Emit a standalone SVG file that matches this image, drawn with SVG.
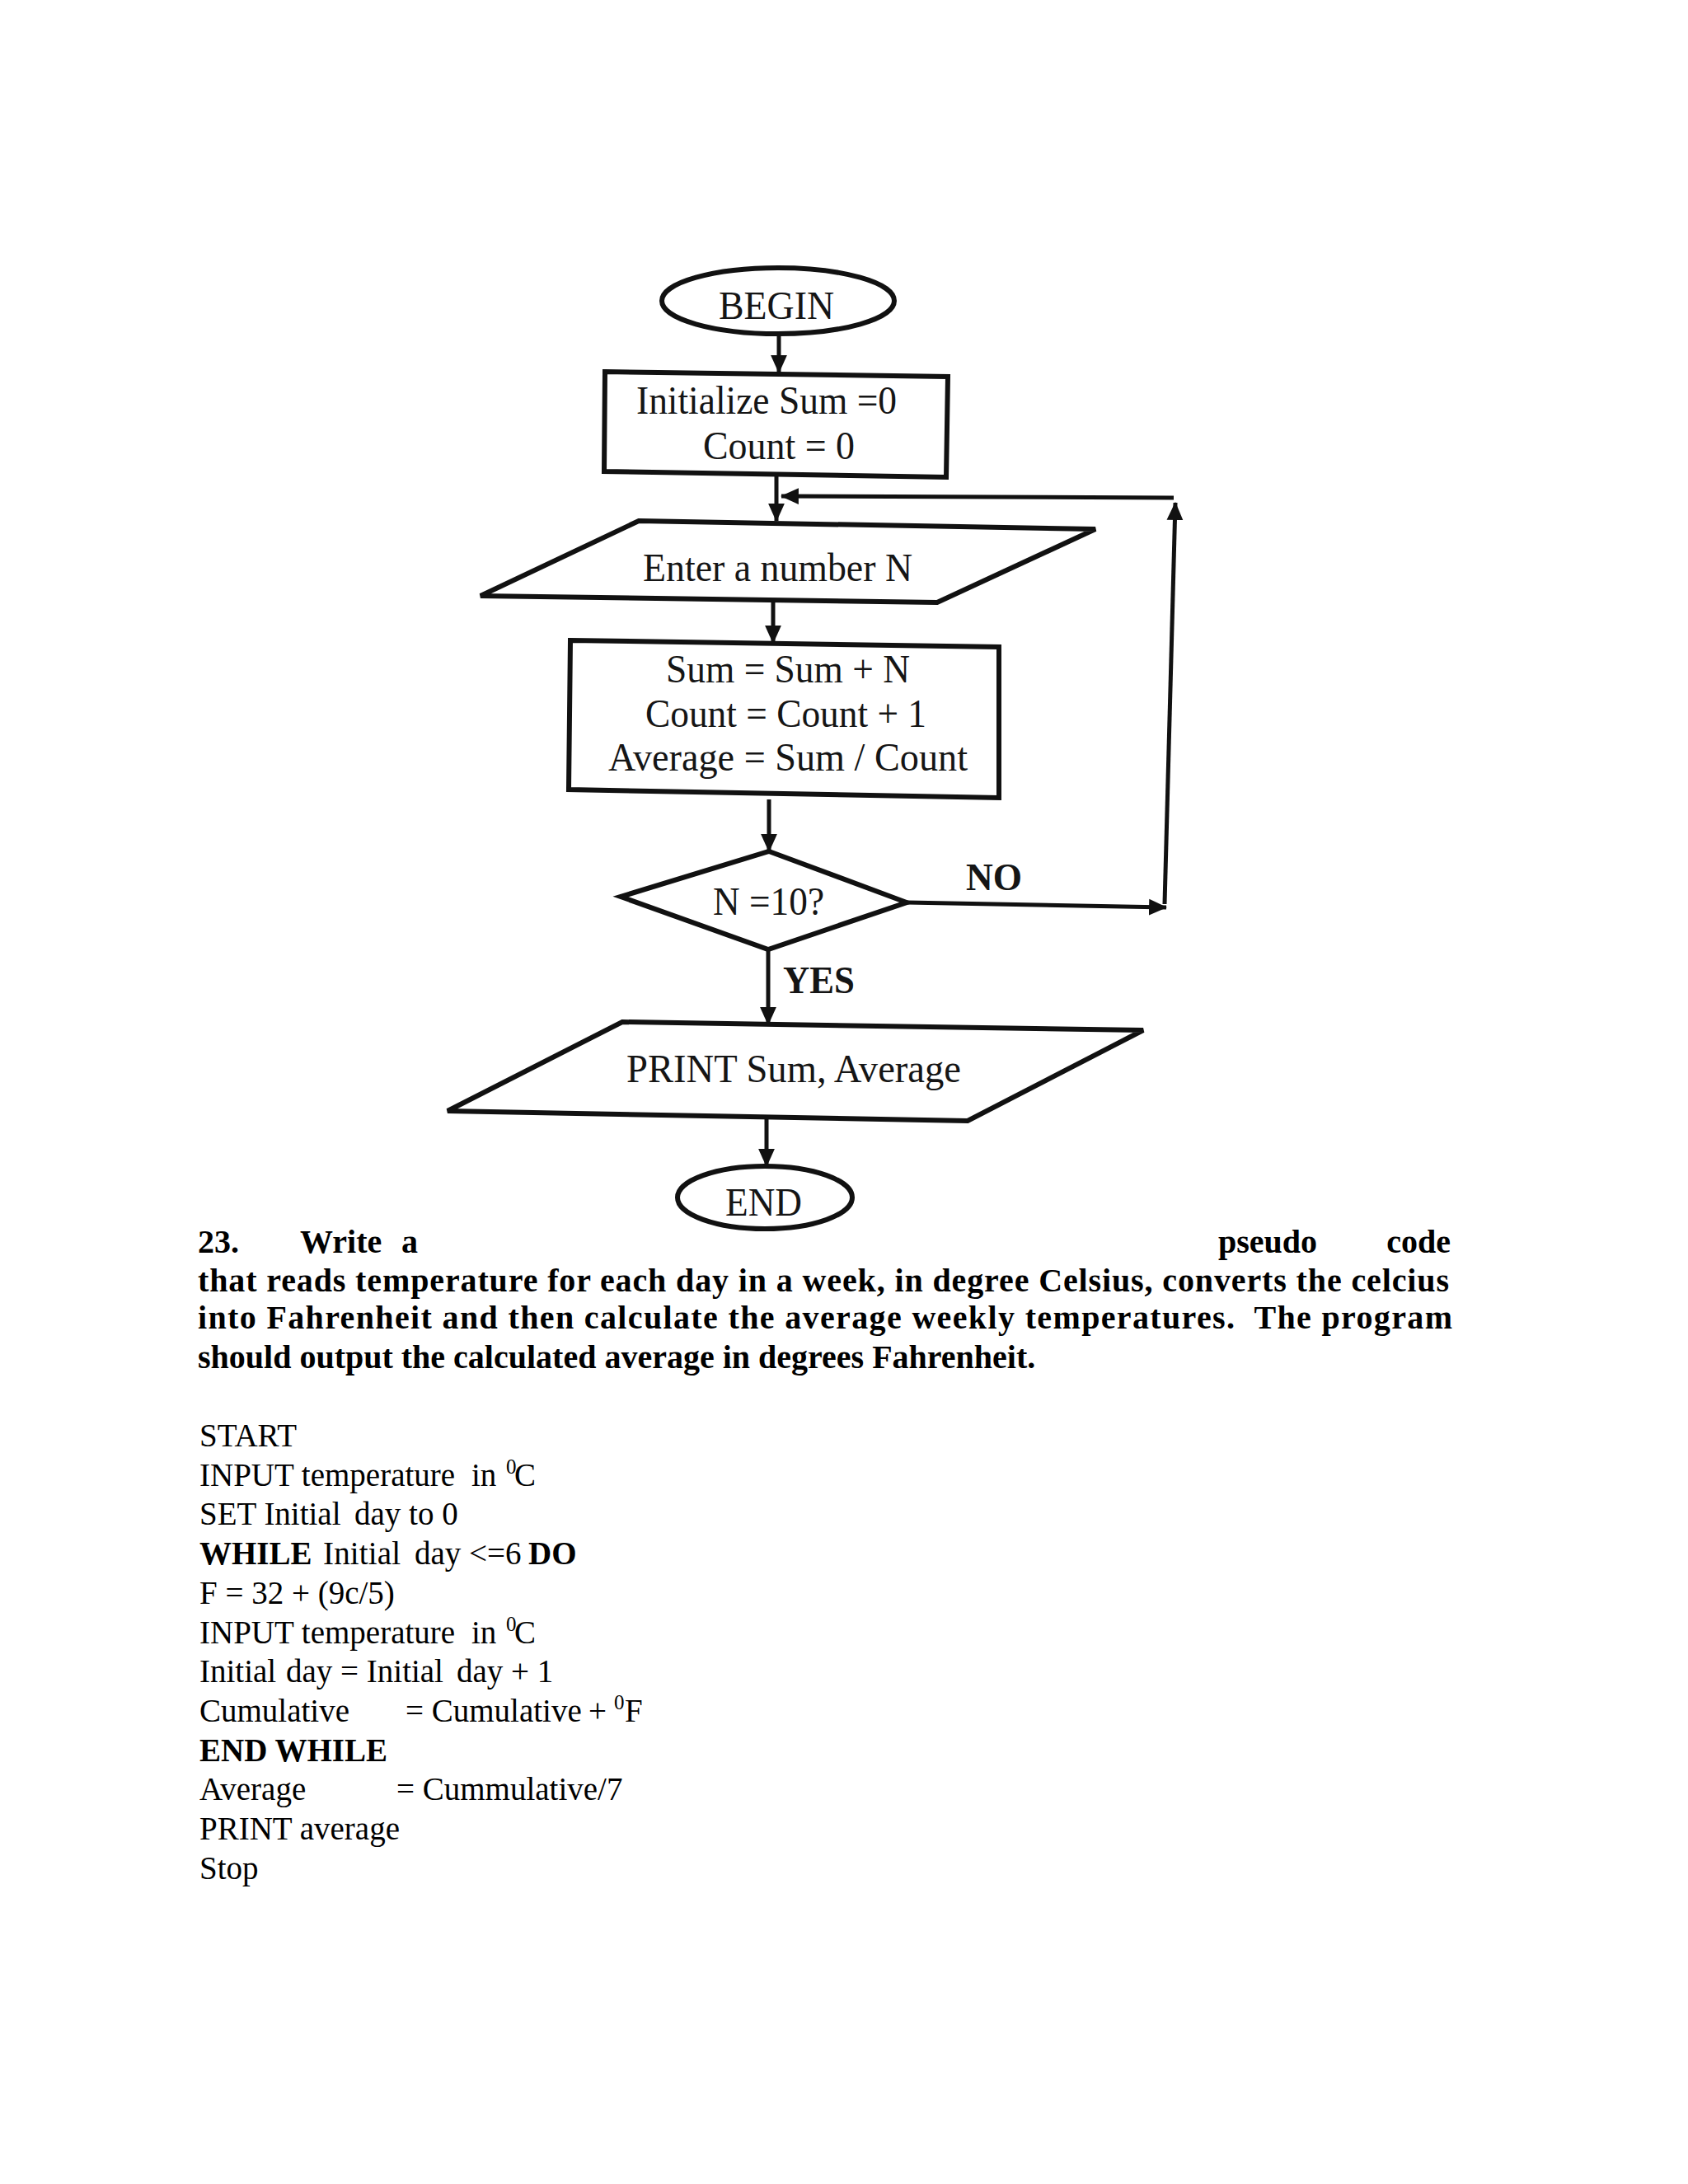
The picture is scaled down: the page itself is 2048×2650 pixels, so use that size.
<svg xmlns="http://www.w3.org/2000/svg" width="2048" height="2650" viewBox="0 0 2048 2650">
<defs>
<style>
.shape{fill:none;stroke:#111;stroke-width:6;stroke-linejoin:miter}
.edge{fill:none;stroke:#111;stroke-width:5}
.fc{font-family:"Liberation Serif","Times New Roman",serif;font-size:48px;fill:#151515}
.fcb{font-family:"Liberation Serif","Times New Roman",serif;font-size:47px;font-weight:bold;fill:#151515}
.para{font-family:"Liberation Serif","Times New Roman",serif;font-size:40px;font-weight:bold;fill:#000}
.code{font-family:"Liberation Serif","Times New Roman",serif;font-size:39px;fill:#000}
.b{font-weight:bold}
.sup{font-size:25px}
</style>
<marker id="arr" viewBox="0 0 20 20" refX="19" refY="10" markerWidth="22" markerHeight="22" markerUnits="userSpaceOnUse" orient="auto">
<path d="M0,1 L20,10 L0,19 Z" fill="#111"/>
</marker>
</defs>
<rect x="0" y="0" width="2048" height="2650" fill="#fff"/>

<g id="connectors">
<line class="edge" x1="945" y1="405" x2="945" y2="452" marker-end="url(#arr)"/>
<line class="edge" x1="942" y1="578" x2="942" y2="632" marker-end="url(#arr)"/>
<line class="edge" x1="938" y1="729" x2="938" y2="780" marker-end="url(#arr)"/>
<line class="edge" x1="933" y1="970" x2="933" y2="1033" marker-end="url(#arr)"/>
<line class="edge" x1="1100" y1="1095" x2="1415" y2="1101" marker-end="url(#arr)"/>
<line class="edge" x1="1413" y1="1097" x2="1426" y2="610" marker-end="url(#arr)"/>
<line class="edge" x1="1424" y1="604" x2="948" y2="602" marker-end="url(#arr)"/>
<line class="edge" x1="932" y1="1152" x2="932" y2="1243" marker-end="url(#arr)"/>
<line class="edge" x1="930" y1="1354" x2="930" y2="1415" marker-end="url(#arr)"/>
</g>

<g id="begin">
<ellipse class="shape" cx="944" cy="365" rx="141" ry="40"/>
<text class="fc" x="872" y="387" textLength="140" lengthAdjust="spacingAndGlyphs">BEGIN</text>
</g>

<g id="init">
<polygon class="shape" points="734,451 1150,457 1148,579 733,572"/>
<text class="fc" x="772" y="502" textLength="316" lengthAdjust="spacingAndGlyphs">Initialize Sum =0</text>
<text class="fc" x="853" y="557" textLength="184" lengthAdjust="spacingAndGlyphs">Count = 0</text>
</g>

<g id="enter">
<polygon class="shape" points="775,632 1329,642 1137,731 583,723"/>
<text class="fc" x="780" y="705" textLength="327" lengthAdjust="spacingAndGlyphs">Enter a number N</text>
</g>

<g id="process">
<polygon class="shape" points="692,777 1212,785 1212,968 690,958"/>
<text class="fc" x="808" y="828" textLength="296" lengthAdjust="spacingAndGlyphs">Sum = Sum + N</text>
<text class="fc" x="783" y="882" textLength="341" lengthAdjust="spacingAndGlyphs">Count = Count + 1</text>
<text class="fc" x="738" y="935" textLength="436" lengthAdjust="spacingAndGlyphs">Average = Sum / Count</text>
</g>

<g id="decision">
<polygon class="shape" points="933,1033 1100,1095 932,1152 753,1088"/>
<text class="fc" x="865" y="1110" textLength="135" lengthAdjust="spacingAndGlyphs">N =10?</text>
</g>

<g id="labels">
<text class="fcb" x="1172" y="1080" textLength="68" lengthAdjust="spacingAndGlyphs">NO</text>
<text class="fcb" x="950" y="1205" textLength="87" lengthAdjust="spacingAndGlyphs">YES</text>
</g>

<g id="print">
<polygon class="shape" points="755,1240 1387,1250 1174,1360 543,1348"/>
<text class="fc" x="760" y="1313" textLength="406" lengthAdjust="spacingAndGlyphs">PRINT Sum, Average</text>
</g>

<g id="end">
<ellipse class="shape" cx="928" cy="1453" rx="106" ry="38"/>
<text class="fc" x="880" y="1475" textLength="93" lengthAdjust="spacingAndGlyphs">END</text>
</g>

<g id="question">
<text class="para" x="240" y="1520">23.</text>
<text class="para" x="364" y="1520">Write</text>
<text class="para" x="487" y="1520">a</text>
<text class="para" x="1478" y="1520">pseudo</text>
<text class="para" x="1760" y="1520" text-anchor="end">code</text>
<text class="para" x="240" y="1567" textLength="1518" lengthAdjust="spacing">that reads temperature for each day in a week, in degree Celsius, converts the celcius</text>
<text class="para" x="240" y="1612" textLength="1522" lengthAdjust="spacing" xml:space="preserve">into Fahrenheit and then calculate the average weekly temperatures.  The program</text>
<text class="para" x="240" y="1660">should output the calculated average in degrees Fahrenheit.</text>
</g>

<g id="pseudocode">
<text class="code" x="242" y="1755">START</text>
<text class="code" y="1803"><tspan x="242">INPUT temperature</tspan><tspan x="572">in</tspan><tspan x="614" dy="-15" class="sup">0</tspan><tspan x="624" dy="15">C</tspan></text>
<text class="code" y="1850"><tspan x="242">SET Initial</tspan><tspan x="430">day to 0</tspan></text>
<text class="code" y="1898"><tspan x="242" class="b">WHILE</tspan><tspan x="392" textLength="94" lengthAdjust="spacing">Initial</tspan><tspan x="503">day &lt;=6</tspan><tspan x="641" class="b">DO</tspan></text>
<text class="code" x="242" y="1946">F = 32 + (9c/5)</text>
<text class="code" y="1994"><tspan x="242">INPUT temperature</tspan><tspan x="572">in</tspan><tspan x="614" dy="-15" class="sup">0</tspan><tspan x="624" dy="15">C</tspan></text>
<text class="code" y="2041"><tspan x="242">Initial</tspan><tspan x="347">day = Initial</tspan><tspan x="554">day + 1</tspan></text>
<text class="code" y="2089"><tspan x="242">Cumulative</tspan><tspan x="492">= Cumulative</tspan><tspan x="714">+</tspan><tspan x="745" dy="-15" class="sup">0</tspan><tspan x="758" dy="15">F</tspan></text>
<text class="code b" x="242" y="2137">END WHILE</text>
<text class="code" y="2184"><tspan x="242">Average</tspan><tspan x="481">= Cummulative/7</tspan></text>
<text class="code" x="242" y="2232">PRINT average</text>
<text class="code" x="242" y="2280">Stop</text>
</g>
</svg>
